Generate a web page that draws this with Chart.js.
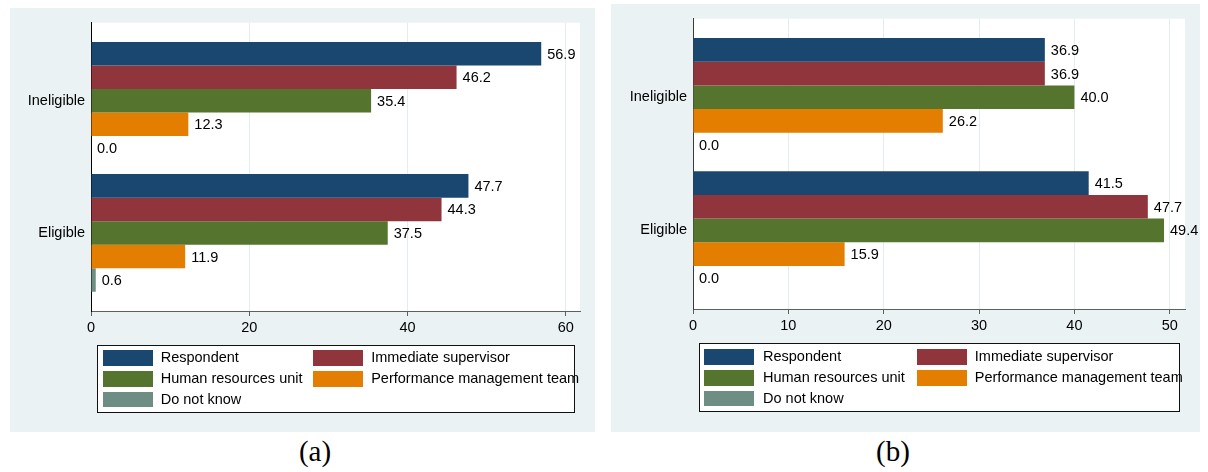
<!DOCTYPE html>
<html>
<head>
<meta charset="utf-8">
<script src="https://cdn.jsdelivr.net/npm/chart.js@4.4.1/dist/chart.umd.min.js"></script>
<style>
  html, body { margin: 0; padding: 0; background: #ffffff; }
  body { width: 1208px; height: 472px; position: relative; overflow: hidden; font-family: "Liberation Sans", Arial, sans-serif; }
  .panel { position: absolute; background: #eaf2f3; }
  .panel canvas { position: absolute; left: 0; top: 0; }
  .legend { position: absolute; background: #ffffff; border: 1px solid #111; box-sizing: border-box; }
  .sw { position: absolute; width: 50px; height: 15.5px; }
  .lt { position: absolute; font-size: 14.5px; line-height: 15.5px; color: #000; white-space: nowrap; }
  .cap { position: absolute; width: 100px; text-align: center; font-family: "Liberation Serif", "Times New Roman", serif; font-size: 29px; line-height: 29px; color: #000; }
</style>
</head>
<body>
<div class="panel" id="panelA" style="left:10px; top:8px; width:585px; height:424px;"><canvas id="chartA" width="585" height="424"></canvas></div>
<div class="panel" id="panelB" style="left:611px; top:4px; width:589px; height:428px;"><canvas id="chartB" width="589" height="428"></canvas></div>
<div class="legend" id="legendA" style="left:97px; top:345px; width:478px; height:68px;"></div>
<div class="legend" id="legendB" style="left:699px; top:343px; width:481px; height:69px;"></div>
<div class="cap" id="capA" style="left:265px; top:437px;"></div>
<div class="cap" id="capB" style="left:843px; top:437px;"></div>
<script>
// ---- Data ----
const categories = ['Ineligible', 'Eligible'];
const seriesNames = ['Respondent', 'Immediate supervisor', 'Human resources unit', 'Performance management team', 'Do not know'];
const seriesColors = ['#1a476f', '#90353b', '#55752f', '#e37e00', '#6e8e84'];

const panelA_respondent = [56.9, 47.7];
const panelA_supervisor = [46.2, 44.3];
const panelA_hr         = [35.4, 37.5];
const panelA_pmt        = [12.3, 11.9];
const panelA_dontKnow   = [0.0, 0.6];

const panelB_respondent = [36.9, 41.5];
const panelB_supervisor = [36.9, 47.7];
const panelB_hr         = [40.0, 49.4];
const panelB_pmt        = [26.2, 15.9];
const panelB_dontKnow   = [0.0, 0.0];

const ticksA = [0, 20, 40, 60];
const ticksB = [0, 10, 20, 30, 40, 50];
const captions = ['(a)', '(b)'];

// ---- Setup ----
Chart.defaults.font.family = '"Liberation Sans", Arial, sans-serif';
Chart.defaults.font.size = 14.5;
Chart.defaults.color = '#000';

const plotBg = {
  id: 'plotBg',
  beforeDraw(chart) {
    const a = chart.chartArea, ctx = chart.ctx;
    ctx.save();
    ctx.fillStyle = '#ffffff';
    ctx.fillRect(a.left, a.top, a.right - a.left, a.bottom - a.top);
    ctx.restore();
  }
};

const valueLabels = {
  id: 'valueLabels',
  afterDatasetsDraw(chart) {
    const ctx = chart.ctx;
    ctx.save();
    ctx.font = '14.5px "Liberation Sans", Arial, sans-serif';
    ctx.fillStyle = '#000';
    ctx.textAlign = 'left';
    ctx.textBaseline = 'middle';
    chart.data.datasets.forEach((ds, i) => {
      const meta = chart.getDatasetMeta(i);
      meta.data.forEach((el, j) => {
        const v = ds.data[j].x;
        ctx.fillText(v.toFixed(1), el.x + 6, el.y + 1);
      });
    });
    ctx.restore();
  }
};

function makeChart(id, series, ticks, xMax, geom) {
  const datasets = series.map((arr, k) => ({
    label: seriesNames[k],
    data: arr.map((v, i) => ({ x: v, y: i })),
    backgroundColor: seriesColors[k],
    borderWidth: 0,
    categoryPercentage: 0.89,
    barPercentage: 1.0
  }));
  return new Chart(document.getElementById(id), {
    type: 'bar',
    data: { datasets },
    options: {
      indexAxis: 'y',
      responsive: false,
      animation: false,
      devicePixelRatio: 1,
      layout: { padding: { left: 0, right: geom.right, top: geom.top, bottom: geom.bottom } },
      plugins: { legend: { display: false }, tooltip: { enabled: false } },
      scales: {
        x: {
          type: 'linear', min: 0, max: xMax, offset: false,
          afterBuildTicks: s => { s.ticks = ticks.map(v => ({ value: v })); },
          afterFit: s => { s.height = 30; },
          ticks: { padding: 3, color: '#000', font: { size: 14.5 } },
          grid: {
            color: c => (c.tick && c.tick.value === 0) ? 'rgba(0,0,0,0)' : '#e3edef',
            tickColor: '#5f5f5f', tickLength: 5, drawTicks: true, lineWidth: 1
          },
          border: { color: '#5f5f5f', width: 1 }
        },
        y: {
          type: 'linear', reverse: true, min: -0.59, max: 1.59, offset: false,
          afterBuildTicks: s => { s.ticks = categories.map((c, i) => ({ value: i })); },
          afterFit: s => { s.width = geom.yw; },
          ticks: { callback: v => categories[v] !== undefined ? categories[v] : '', padding: 6, color: '#000', font: { size: 14.5 } },
          grid: { display: false, drawTicks: false },
          border: { display: true, color: geom.axisColor, width: 1 }
        }
      }
    },
    plugins: [plotBg, valueLabels]
  });
}

makeChart('chartA',
  [panelA_respondent, panelA_supervisor, panelA_hr, panelA_pmt, panelA_dontKnow],
  ticksA, 61.8, { right: 15, top: 14, bottom: 91, yw: 81, axisColor: '#000' });

makeChart('chartB',
  [panelB_respondent, panelB_supervisor, panelB_hr, panelB_pmt, panelB_dontKnow],
  ticksB, 51.6, { right: 15, top: 14, bottom: 93, yw: 82, axisColor: '#3a3a3a' });

// ---- Legends ----
function buildLegend(id, swLeft, txLeft, rowTop) {
  const box = document.getElementById(id);
  seriesNames.forEach((name, k) => {
    const col = k % 2, row = Math.floor(k / 2);
    const sw = document.createElement('div');
    sw.className = 'sw';
    sw.style.left = swLeft[col] + 'px';
    sw.style.top = rowTop[row] + 'px';
    sw.style.background = seriesColors[k];
    box.appendChild(sw);
    const t = document.createElement('div');
    t.className = 'lt';
    t.style.left = txLeft[col] + 'px';
    t.style.top = rowTop[row] + 'px';
    t.textContent = name;
    box.appendChild(t);
  });
}
buildLegend('legendA', [4.6, 215], [62.7, 273.2], [4, 25, 45.7]);
buildLegend('legendB', [4, 217], [63, 274.8], [5, 26, 46.7]);

document.getElementById('capA').textContent = captions[0];
document.getElementById('capB').textContent = captions[1];
</script>
</body>
</html>
